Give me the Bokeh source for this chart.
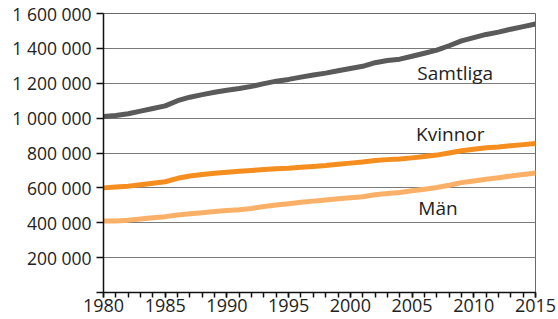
from bokeh.plotting import figure
from bokeh.models import FixedTicker, Label
from bokeh.embed import file_html
from bokeh.resources import INLINE

years = list(range(1980, 2016))
samtliga = [1010000, 1015000, 1025000, 1040000, 1055000, 1070000, 1100000, 1120000, 1135000, 1148000,
            1160000, 1170000, 1182000, 1198000, 1212000, 1222000, 1235000, 1247000, 1258000, 1272000,
            1285000, 1297000, 1318000, 1330000, 1338000, 1355000, 1372000, 1390000, 1415000, 1443000,
            1462000, 1480000, 1493000, 1510000, 1525000, 1540000]
kvinnor = [600000, 605000, 610000, 618000, 626000, 635000, 655000, 668000, 677000, 684000,
           690000, 695000, 700000, 705000, 710000, 713000, 718000, 723000, 728000, 735000,
           742000, 748000, 757000, 762000, 765000, 772000, 780000, 788000, 800000, 813000,
           822000, 830000, 835000, 842000, 848000, 855000]
man = [410000, 410000, 415000, 422000, 429000, 435000, 445000, 452000, 458000, 464000,
       470000, 475000, 482000, 493000, 502000, 509000, 517000, 524000, 530000, 537000,
       543000, 549000, 561000, 568000, 573000, 583000, 592000, 602000, 615000, 630000,
       640000, 650000, 658000, 668000, 677000, 685000]

y_ticks = [0, 200000, 400000, 600000, 800000, 1000000, 1200000, 1400000, 1600000]
y_tick_labels = ["", "200 000", "400 000", "600 000", "800 000", "1 000 000", "1 200 000", "1 400 000", "1 600 000"]
x_ticks = [1980, 1985, 1990, 1995, 2000, 2005, 2010, 2015]

series_names = ["Samtliga", "Kvinnor", "Män"]
series_colors = ["#5a5a5a", "#f58d1f", "#fbb068"]
# label anchor positions (year, value)
label_x = [2008.5, 2008.1, 2007.1]
label_y = [1260000, 910000, 484000]

FONT = "Open Sans"
TXT = "#222222"

p = figure(width=558, height=319, output_backend="svg", toolbar_location=None,
           x_range=(1980, 2015), y_range=(0, 1600000),
           min_border_left=103, min_border_right=23, min_border_top=13, min_border_bottom=27)
p.background_fill_color = "white"
p.border_fill_color = "white"
p.outline_line_color = "#6a6a6a"
p.outline_line_width = 1

p.xgrid.visible = False
p.ygrid.ticker = FixedTicker(ticks=y_ticks)
p.ygrid.grid_line_color = "#7a7a7a"
p.ygrid.grid_line_width = 1

p.yaxis.ticker = FixedTicker(ticks=y_ticks)
p.yaxis.major_label_overrides = {t: l for t, l in zip(y_ticks, y_tick_labels)}
p.yaxis.major_tick_in = 0
p.yaxis.major_tick_out = 7
p.yaxis.minor_tick_out = 0
p.yaxis.minor_tick_in = 0
p.yaxis.major_label_standoff = 5
p.yaxis.major_label_text_font = FONT
p.yaxis.major_label_text_font_size = "17.5px"
p.yaxis.major_label_text_color = TXT

p.xaxis.ticker = FixedTicker(ticks=x_ticks, minor_ticks=years)
p.xaxis.major_tick_in = 0
p.xaxis.major_tick_out = 5
p.xaxis.minor_tick_in = 0
p.xaxis.minor_tick_out = 5
p.xaxis.major_label_standoff = 1
p.xaxis.major_label_text_font = FONT
p.xaxis.major_label_text_font_size = "18px"
p.xaxis.major_label_text_color = TXT

for ax in (p.xaxis, p.yaxis):
    ax.axis_line_color = "#111111"
    ax.axis_line_width = 1.5
    ax.major_tick_line_color = "#111111"
    ax.minor_tick_line_color = "#111111"
    ax.major_tick_line_width = 1.5
    ax.minor_tick_line_width = 1.5

for vals, col in zip([samtliga, kvinnor, man], series_colors):
    p.line(years, vals, line_color=col, line_width=5, line_cap="round", line_join="round")

for name, lx, ly in zip(series_names, label_x, label_y):
    p.add_layout(Label(x=lx, y=ly, text=name, text_font=FONT, text_font_size="19px",
                       text_color=TXT, text_align="center", text_baseline="middle"))

open("out.html", "w").write(file_html(p, INLINE))
